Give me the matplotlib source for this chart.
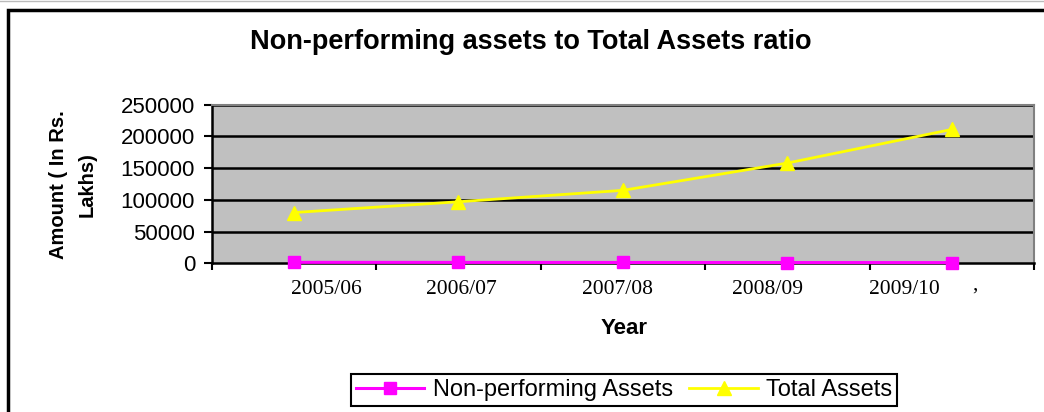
import matplotlib
matplotlib.use("Agg")
import matplotlib.pyplot as plt
from matplotlib.patches import Rectangle

# ---- data ----
years = ["2005/06", "2006/07", "2007/08", "2008/09", "2009/10"]
npa = [1500, 1400, 1300, 1200, 1100]
total_assets = [80000, 97000, 115000, 158000, 211000]
# category-axis label placement (as drawn in the source chart)
tick_label_pos = [0.20, 1.02, 1.97, 2.88, 3.71]
extra_label = ","
extra_label_pos = 4.14
y_ticks = [0, 50000, 100000, 150000, 200000, 250000]

W, H = 1044, 412
fig = plt.figure(figsize=(W / 100, H / 100), dpi=100)
fig.patch.set_facecolor("white")

# outer chart frame
fig.add_artist(Rectangle((8 / W, -0.05), 1.2, (H - 10) / H + 0.05,
                         transform=fig.transFigure, fill=False,
                         edgecolor="black", linewidth=2.5))
fig.add_artist(plt.Line2D([0, 1], [1 - 0.8 / H] * 2, transform=fig.transFigure,
                          color="#BBBBBB", linewidth=1))

ax = fig.add_axes([211.7 / W, (H - 263.3) / H, (1034 - 211.7) / W, (263.3 - 104.7) / H])
ax.set_facecolor("#C0C0C0")

x = list(range(len(years)))
ax.plot(x, npa, color="#FF00FF", linewidth=2.2, marker="s", markersize=8.5,
        label="Non-performing Assets", zorder=5, clip_on=False)
ax.plot(x, total_assets, color="#FFFF00", linewidth=2, marker="^", markersize=10.5,
        label="Total Assets", zorder=5, clip_on=False)

ax.set_xlim(-0.5, len(years) - 0.5)
ax.set_ylim(0, 250000)
ax.set_yticks(y_ticks)
ax.set_yticklabels([str(v) for v in y_ticks], fontfamily="Liberation Sans", fontsize=16)
ax.set_xticks([i - 0.5 for i in range(len(years) + 1)])
ax.set_xticklabels([])
ax.tick_params(axis="y", direction="out", length=6, width=1.5, color="black", pad=6)
ax.tick_params(axis="x", direction="out", length=5, width=1.5, color="black")

for v in y_ticks[1:]:
    ax.axhline(v, color="black", linewidth=1.8, zorder=1)

for s in ["top", "right"]:
    ax.spines[s].set_color("#808080")
    ax.spines[s].set_linewidth(1.5)
for s in ["left", "bottom"]:
    ax.spines[s].set_color("black")
    ax.spines[s].set_linewidth(1.8)

trans = ax.get_xaxis_transform()
for lbl, p in zip(years, tick_label_pos):
    ax.text(p, -0.165, lbl, transform=trans, ha="center", va="center",
            fontfamily="Liberation Serif", fontsize=15.5)
ax.text(extra_label_pos, -0.14, extra_label, transform=trans, ha="center", va="center",
        fontfamily="Liberation Serif", fontsize=15)

fig.text(531 / W, 1 - 42 / H, "Non-performing assets to Total Assets ratio",
         ha="center", va="center", fontfamily="Liberation Sans", fontweight="bold",
         fontsize=19.5)
fig.text(624 / W, 1 - 329 / H, "Year", ha="center", va="center",
         fontfamily="Liberation Sans", fontweight="bold", fontsize=16)
fig.text(73 / W, 1 - 185 / H, "Amount ( In Rs.\nLakhs)", ha="center", va="center",
         rotation=90, fontfamily="Liberation Sans", fontweight="bold", fontsize=14.5,
         linespacing=1.6, multialignment="center")

leg = fig.legend(loc="center", bbox_to_anchor=(624 / W, 1 - 390 / H), ncol=2,
                 frameon=True, fancybox=False, edgecolor="black", framealpha=1,
                 prop={"family": "Liberation Sans", "size": 17},
                 handlelength=2.9, columnspacing=0.7, handletextpad=0.35,
                 borderpad=0.22, borderaxespad=0)
leg.get_frame().set_linewidth(1.5)

fig.savefig("out.png", dpi=100)
